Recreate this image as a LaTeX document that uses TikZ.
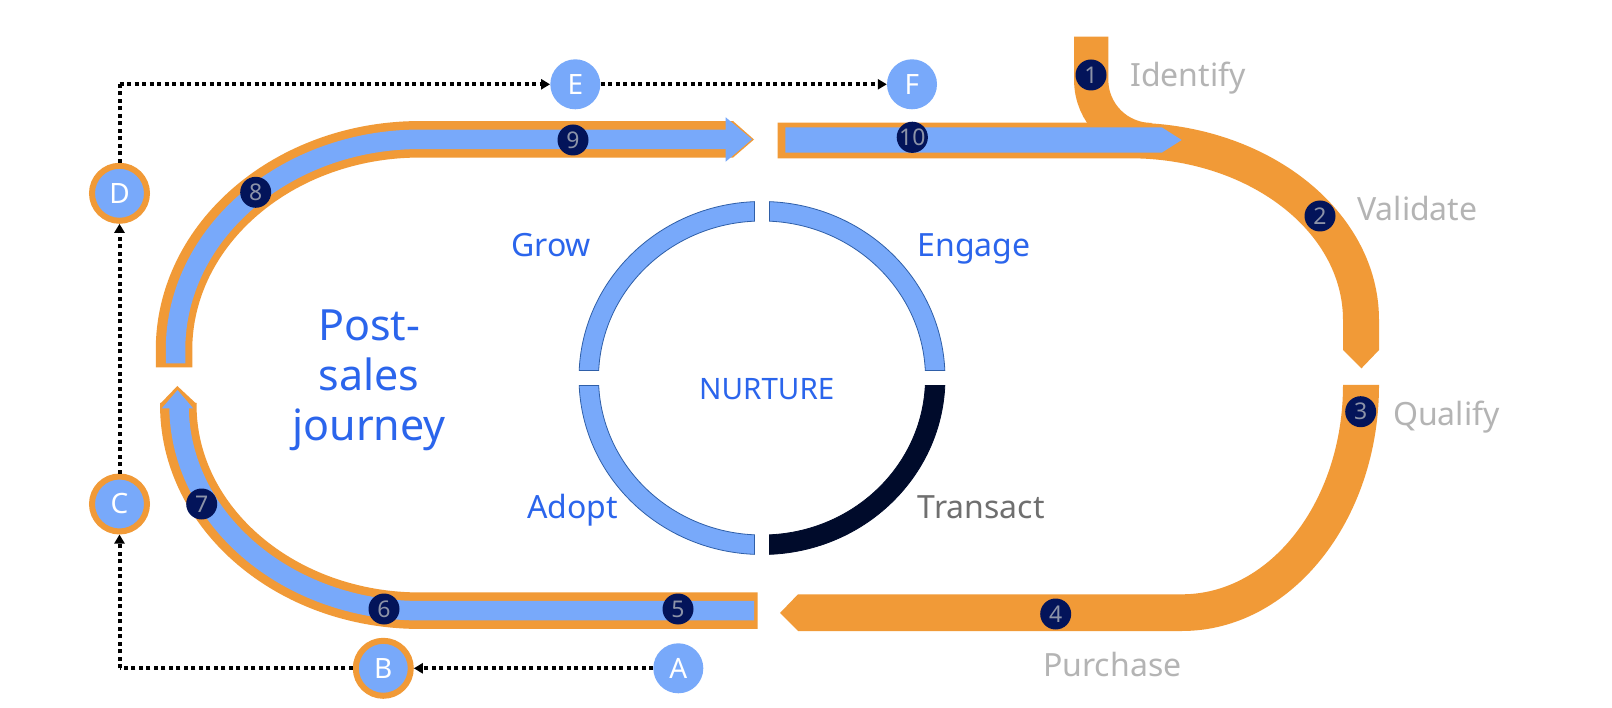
\documentclass[tikz,border=0pt]{standalone}
\usepackage{fontspec}
\setmainfont{Noto Sans}
\usetikzlibrary{arrows.meta}
\definecolor{orng}{HTML}{F19A37}
\definecolor{lblue}{HTML}{78A9FA}
\definecolor{navy}{HTML}{03145A}
\definecolor{darkarc}{HTML}{000B2B}
\definecolor{ringedge}{HTML}{2F5FA8}
\definecolor{numtxt}{HTML}{8C93A8}
\definecolor{tblue}{HTML}{2B65EC}
\definecolor{lgray}{HTML}{B4B4B4}
\definecolor{dgray}{HTML}{6F6F6F}
\newcommand\ringseg[5]{%
  \path[#1] ([shift={(762,378)}]#2:183 and 176.5) arc[start angle=#2, end angle=#3, x radius=183, y radius=176.5]
    -- ([shift={(762,378)}]#5:163.5 and 157) arc[start angle=#5, end angle=#4, x radius=163.5, y radius=157] -- cycle;}
\begin{document}
\begin{tikzpicture}[x=1pt,y=-1pt,
  orangeband/.style={draw=orng, line width=36.5pt},
  blueband/.style={draw=lblue, line width=19.5pt},
  num/.style={circle, fill=navy, minimum size=31pt, inner sep=0pt, text=numtxt, font=\fontsize{23}{23}\selectfont},
  letter/.style={circle, fill=lblue, minimum size=50pt, inner sep=0pt, text=white, font=\fontsize{28}{28}\selectfont},
  ringletter/.style={letter, draw=orng, line width=6pt, minimum size=55pt},
  dotline/.style={draw=black, line width=4pt, dash pattern=on 4pt off 3.5pt, -{Triangle[length=9pt,width=10pt]}},
  dotplain/.style={draw=black, line width=4pt, dash pattern=on 4pt off 3.5pt},
  stage/.style={text=lgray, font=\fontsize{32}{32}\selectfont, anchor=base west, inner sep=0pt},
  phase/.style={text=tblue, font=\fontsize{32}{32}\selectfont, inner sep=0pt},
  ringblue/.style={fill=lblue, draw=ringedge, line width=0.8pt},
  ringdark/.style={fill=darkarc, draw=darkarc, line width=0.8pt}
]
\useasboundingbox[fill=white] (0,0) rectangle (1612,708);

% ---------- sales journey (orange, right) ----------
\fill[orng] (777.7,122.7) -- (1130,122.7)
  arc[start angle=270, end angle=360, x radius=249, y radius=197.3]
  -- (1379,350) -- (1361.5,368.3) -- (1343,350) -- (1343,320)
  arc[start angle=0, end angle=-90, x radius=213, y radius=161.7]
  -- (777.7,158.3) -- cycle;
\draw[draw=orng, line width=34.3pt] (1091.2,36.7) -- (1091.2,80) arc[start angle=180, end angle=90, radius=60];
\fill[orng] (1379,385)
  arc[start angle=0, end angle=90, x radius=197, y radius=246]
  -- (798,631) -- (780,613) -- (798,594.3) -- (1182,594.3)
  arc[start angle=90, end angle=0, x radius=161, y radius=209.3] -- cycle;
% blue arrow 10
\fill[lblue] (785.3,127.3) -- (1161.7,127.3) -- (1181.7,140) -- (1161.7,152.7) -- (785.3,152.7) -- cycle;

% ---------- post-sales journey (left) ----------
\draw[orangeband] (174,367.3) -- (174,350)
  arc[start angle=180, end angle=270, x radius=246, y radius=210.7] -- (733,139.3);
\fill[orng] (733,121) -- (754,139.5) -- (733,157.6) -- cycle;
\draw[blueband] (175.5,363.3) -- (175.5,350)
  arc[start angle=180, end angle=270, x radius=244.5, y radius=210.7] -- (726,139.3);
\fill[lblue] (725.7,117.3) -- (752,139.3) -- (725.7,161.7) -- cycle;

\draw[orangeband] (178.3,403) -- (178.3,405)
  arc[start angle=180, end angle=90, x radius=241.7, y radius=205.7] -- (757.7,610.7);
\fill[orng] (160,404) -- (177.3,386) -- (196.6,404) -- cycle;
\draw[blueband] (179,408) -- (179,405)
  arc[start angle=180, end angle=90, x radius=241, y radius=205.7] -- (754,610.7);
\fill[lblue] (161.7,408.5) -- (177.5,390) -- (193.3,408.5) -- cycle;

% ---------- step numbers ----------
\node[num] (n1) at (1091,75) {1};
\node[num] (n2) at (1320,216) {2};
\node[num] (n3) at (1360.7,411.7) {3};
\node[num] (n4) at (1055.7,614) {4};
\node[num] (n5) at (678,609) {5};
\node[num] (n6) at (384,609) {6};
\node[num] (n7) at (201.7,504) {7};
\node[num] (n8) at (255.7,192.3) {8};
\node[num] (n9) at (573,140) {9};
\node[num] (n10) at (912.3,137.3) {10};

% ---------- letter circles ----------
\node[letter] (A) at (678.3,668.3) {A};
\node[ringletter] (B) at (383.3,668.3) {B};
\node[ringletter] (C) at (119.5,504) {C};
\node[ringletter] (D) at (119.5,193.3) {D};
\node[letter] (E) at (575.3,84.3) {E};
\node[letter] (F) at (912,84.3) {F};
\coordinate (cBL) at (119.5,668.3);
\coordinate (cTL) at (119.5,84.3);

\draw[dotline] (A) -- (B);
\draw[dotplain] (B.west) -- (cBL);
\draw[dotline] (cBL) -- (C);
\draw[dotline] (C) -- (D);
\draw[dotplain] (D) -- (cTL);
\draw[dotline] (cTL) -- (E);
\draw[dotline] (E) -- (F);

% ---------- nurture ring ----------
\ringseg{ringblue}{182.44}{267.65}{182.74}{267.37}
\ringseg{ringblue}{272.35}{357.56}{272.63}{357.26}
\ringseg{ringdark}{2.44}{87.65}{2.74}{87.37}
\ringseg{ringblue}{92.35}{177.56}{92.63}{177.26}

% ---------- texts ----------
\node[stage] (tId) at (1130,86.5) {Identify};
\node[stage] (tVa) at (1357,220.5) {Validate};
\node[stage] (tQu) at (1393,425) {Qualify};
\node[stage] (tPu) at (1043,676) {Purchase};
\node[phase, anchor=base west] (tGr) at (511,257) {Grow};
\node[phase, anchor=base west] (tEn) at (917.3,256.7) {Engage};
\node[phase, anchor=base east] (tAd) at (618.3,518) {Adopt};
\node[phase, anchor=base west, text=dgray] (tTr) at (917.7,518) {Transact};
\node[phase, anchor=base west, font=\fontsize{29.5}{29.5}\selectfont] (tNu) at (699,400) {NURTURE};
\node[text=tblue, align=center, inner sep=0pt, font=\fontsize{43}{50}\selectfont] (tPs) at (369,380) {Post-\\sales\\journey};
\end{tikzpicture}
\end{document}
